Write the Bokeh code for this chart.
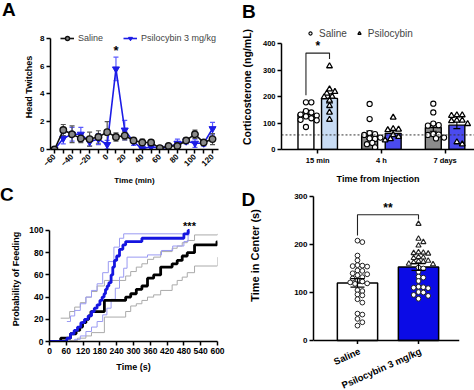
import math
from bokeh.plotting import figure
from bokeh.layouts import row, column
from bokeh.models import Legend, LegendItem, FixedTicker, Span, Div
from bokeh.core.properties import value
from bokeh.embed import file_html
from bokeh.resources import INLINE

FONT = "Liberation Sans"

# ---------------- Panel A : head twitches ----------------
a_time = [-60, -50, -40, -30, -20, -10, 0, 10, 20, 30, 40, 50, 60, 70, 80, 90, 100, 110, 120]
a_saline = [0.0, 1.4, 1.1, 0.8, 0.75, 0.9, 1.25, 0.9, 1.0, 0.65, 0.5, 0.5, 0.1, 0.25, 0.25, 0.65, 1.1, 0.5, 0.75]
a_saline_sem = [0.0, 0.4, 0.6, 0.3, 0.5, 0.45, 0.75, 0.3, 0.3, 0.2, 0.25, 0.12, 0.1, 0.1, 0.3, 0.2, 0.3, 0.2, 0.4]
a_psilo = [0.0, 0.8, 1.1, 1.1, 0.55, 0.75, 0.35, 5.8, 1.4, 0.55, 0.05, 0.2, 0.1, 0.15, 0.45, 0.6, 0.45, 0.45, 1.5]
a_psilo_sem = [0.0, 0.4, 0.5, 0.5, 0.3, 0.4, 0.3, 0.85, 0.7, 0.25, 0.05, 0.15, 0.1, 0.1, 0.3, 0.2, 0.3, 0.2, 0.45]
a_xticks = [-60, -40, -20, 0, 20, 40, 60, 80, 100, 120]
a_xminor = [-50, -30, -10, 10, 30, 50, 70, 90, 110]
a_yticks = [0, 2, 4, 6, 8]

# ---------------- Panel B : corticosterone ----------------
b_groups = ["15 min", "4 h", "7 days"]
b_saline_mean = [133, 55, 83]
b_saline_sem = [10, 15, 14]
b_psilo_mean = [193, 61, 92]
b_psilo_sem = [17, 10, 13]
b_saline_pts = [
    [178, 178, 145, 140, 132, 128, 125, 118, 112, 110, 85],
    [172, 115, 62, 58, 55, 45, 42, 40, 25, 20, 8],
    [173, 140, 98, 92, 90, 58, 56, 55, 45, 42],
]
b_psilo_pts = [
    [315, 228, 218, 212, 200, 198, 185, 165, 140, 113],
    [121, 78, 76, 74, 55, 48, 40, 35],
    [130, 128, 130, 110, 110, 108, 97, 28, 20],
]
b_baseline = 55
b_yticks = [0, 100, 200, 300, 400]

# ---------------- Panel C : probability of feeding ----------------
c_psi_t = [0, 62, 75, 88, 100, 112, 125, 138, 150, 160, 170, 180, 188, 195, 200, 206, 212, 220, 226, 232, 240, 250, 262, 272, 330, 480, 495, 500]
c_psi_p = [0, 3, 7, 10, 13, 17, 20, 23, 27, 30, 33, 37, 40, 43, 47, 50, 53, 60, 67, 73, 77, 83, 87, 90, 93, 97, 100, 100]
c_sal_t = [0, 40, 75, 95, 108, 118, 130, 140, 148, 196, 272, 290, 310, 330, 350, 372, 397, 438, 456, 474, 492, 518, 598, 600]
c_sal_p = [0, 3, 7, 10, 13, 17, 20, 23, 27, 37, 40, 43, 47, 50, 57, 60, 67, 70, 73, 77, 80, 87, 90, 90]
c_psi_hi_t = [62, 75, 90, 110, 130, 150, 170, 190, 210, 230, 250, 265, 490, 500]
c_psi_hi_p = [18, 23, 28, 34, 40, 46, 52, 62, 72, 85, 93, 97, 98, 100]
c_psi_lo_t = [70, 90, 110, 130, 150, 170, 190, 205, 220, 235, 250, 265, 277, 350, 400, 440, 480, 495, 500]
c_psi_lo_p = [0, 2, 5, 9, 13, 18, 24, 30, 38, 48, 58, 66, 76, 78, 82, 86, 90, 96, 96]
c_sal_hi_t = [40, 72, 90, 110, 130, 150, 170, 196, 272, 290, 310, 330, 350, 372, 397, 438, 456, 474, 492, 518, 600]
c_sal_hi_p = [21, 27, 31, 35, 40, 45, 50, 55, 59, 63, 67, 70, 74, 76, 81, 84, 86, 89, 91, 96, 97]
c_sal_lo_t = [40, 72, 100, 130, 150, 196, 272, 290, 310, 330, 350, 372, 397, 438, 456, 474, 492, 518, 600]
c_sal_lo_p = [0, 1, 3, 5, 8, 22, 27, 32, 34, 37, 40, 42, 46, 51, 55, 58, 62, 68, 76]
c_xticks = [0, 60, 120, 180, 240, 300, 360, 420, 480, 540, 600]
c_yticks = [0, 20, 40, 60, 80, 100]

# ---------------- Panel D : time in center ----------------
d_groups = ["Saline", "Psilocybin 3 mg/kg"]
d_mean = [120, 153]
d_sem = [9, 7]
d_saline_pts = [208, 205, 177, 167, 157, 156, 155, 154, 146, 145, 140, 138, 136, 132, 129, 126,
                123, 121, 119, 118, 105, 103, 96, 94, 86, 79, 56, 54, 45, 38, 31]
d_psilo_tri = [243, 212, 205, 198, 184, 183, 182, 181, 174, 173, 172, 166, 165, 164, 163, 160, 159]
d_psilo_circ = [152, 150, 143, 133, 131, 124, 112, 111, 110, 109, 101, 100, 95, 93, 87]
d_yticks = [0, 100, 200, 300]
d_ylabel = "Time in Center (s)"


def swarm(vals, ypx, xpx, d):
    """Beeswarm horizontal offsets (data units) so markers of diameter d px don't overlap."""
    order = sorted(range(len(vals)), key=lambda i: -vals[i])
    cands = [0.0]
    for k in range(1, 14):
        cands += [k * d * 0.55, -k * d * 0.55]
    placed, off = [], [0.0] * len(vals)
    for i in order:
        y = vals[i] * ypx
        for c in cands:
            if all((c - px) ** 2 + (y - py) ** 2 >= d * d * 0.9 for px, py in placed):
                break
        placed.append((c, y))
        off[i] = c / xpx
    return off


def make_fig(w, h, xr, yr, left, right, top, bottom, **kw):
    p = figure(width=w, height=h, x_range=xr, y_range=yr, title=None,
               min_border_left=left, min_border_right=right,
               min_border_top=top, min_border_bottom=bottom,
               output_backend="svg", toolbar_location=None, **kw)
    p.outline_line_color = None
    p.grid.visible = False
    return p


def style_axes(p, tick_px, title_px, lab_stand=2, title_stand=4):
    for ax in p.axis:
        ax.axis_line_color = "black"
        ax.axis_line_width = 1.5
        ax.major_tick_line_width = 1.5
        ax.major_tick_line_color = "black"
        ax.major_tick_out = 4
        ax.major_tick_in = 0
        ax.minor_tick_line_color = None
        ax.major_label_text_font = FONT
        ax.major_label_text_font_style = "bold"
        ax.major_label_text_font_size = tick_px
        ax.major_label_text_color = "black"
        ax.major_label_standoff = lab_stand
        ax.axis_label_text_font = FONT
        ax.axis_label_text_font_style = "bold"
        ax.axis_label_text_font_size = title_px
        ax.axis_label_text_color = "black"
        ax.axis_label_standoff = title_stand


def errbars(p, xs, means, sems, color, cap, lw=1.2):
    lo = [m - s for m, s in zip(means, sems)]
    hi = [m + s for m, s in zip(means, sems)]
    p.segment(x0=xs, y0=lo, x1=xs, y1=hi, line_color=color, line_width=lw)
    p.scatter(x=xs + xs, y=hi + lo, marker="dash", size=cap, line_color=color, line_width=lw)


def letters_div(w, h, items):
    spans = "".join(
        f'<span style="position:absolute;left:{x}px;top:{t}px;">{s}</span>' for s, x, t in items)
    html = (f'<div style="position:relative;width:{w}px;height:{h}px;font-family:\'{FONT}\';'
            f'font-weight:bold;font-size:19px;line-height:19px;color:black;">{spans}</div>')
    return Div(text=html, width=w, height=h, margin=(0, 0, 0, 0))


# ================= A =================  (figure spans page y 21..187)
pA = make_fig(237, 166, (-64.56, 126.8), (0, 9.0), 50, 19, 3, 37)
errbars(pA, a_time, a_psilo, a_psilo_sem, "#5a5aff", 5)
errbars(pA, a_time, a_saline, a_saline_sem, "#555555", 5)
psi_l = pA.line(a_time, a_psilo, line_color="#1c1ce6", line_width=1.6)
psi_m = pA.scatter(a_time, a_psilo, marker="inverted_triangle", size=7,
                   fill_color="#1c1ce6", line_color="#1c1ce6")
sal_l = pA.line(a_time, a_saline, line_color="#111111", line_width=1.6)
sal_m = pA.scatter(a_time, a_saline, marker="circle", size=6.5,
                   fill_color="#8a8a8a", line_color="#111111", line_width=1.4)
pA.text(x=[a_time[7]], y=[a_psilo[7] + a_psilo_sem[7] + 0.45], text=["*"],
        text_font=value(FONT), text_font_style="bold", text_font_size="13px",
        text_align="center", text_baseline="middle", text_color="black")
legA = Legend(items=[LegendItem(label="Saline", renderers=[sal_l, sal_m]),
                     LegendItem(label="Psilocybin 3 mg/kg", renderers=[psi_l, psi_m])],
              orientation="horizontal", location=(10, 106), margin=0, padding=0,
              spacing=20, glyph_width=14, glyph_height=10, label_height=10,
              label_standoff=4, label_text_font=FONT, label_text_font_size="9px",
              background_fill_alpha=0, border_line_color=None)
pA.add_layout(legA)
pA.xaxis.ticker = FixedTicker(ticks=a_xticks, minor_ticks=a_xminor)
pA.yaxis.ticker = FixedTicker(ticks=a_yticks)
pA.yaxis.bounds = (0, 8)
pA.xaxis.axis_label = "Time (min)"
pA.yaxis.axis_label = "Head Twitches"
style_axes(pA, "8px", "9px", 2, 3)
pA.xaxis.axis_label_text_font_size = "8px"
pA.xaxis.axis_label_standoff = 4
pA.xaxis.minor_tick_line_color = "black"
pA.xaxis.minor_tick_line_width = 1.5
pA.xaxis.minor_tick_out = 4
pA.xaxis.minor_tick_in = 0
pA.xaxis.major_label_orientation = math.pi / 4

# ================= B =================
pB = make_fig(237, 166, (-0.569, 2.462), (0, 472.1), 40, 0, 0, 35)
off = 0.185
bw = 0.25
gx = list(range(len(b_groups)))
sx = [g - off for g in gx]
px = [g + off for g in gx]
pB.vbar(x=sx, top=b_saline_mean, width=bw, fill_color=["white", "#8c8c8c", "#8c8c8c"],
        line_color="black", line_width=1.4)
pB.vbar(x=px, top=b_psilo_mean, width=bw, fill_color=["#c8dcf4", "#4b4bee", "#4b4bee"],
        line_color="black", line_width=1.4)
pB.add_layout(Span(location=b_baseline, dimension="width", line_dash="2 2",
                   line_color="#333333", line_width=1))
errbars(pB, sx, b_saline_mean, b_saline_sem, "black", 7, 1.1)
errbars(pB, px, b_psilo_mean, b_psilo_sem, "black", 7, 1.1)
circ_r, tri_r = [], []
for i in gx:
    o = swarm(b_saline_pts[i], 0.2775, 65.0, 5.0)
    circ_r.append(pB.scatter([sx[i] + v for v in o], b_saline_pts[i], marker="circle", size=5.2,
                             fill_color="white", line_color="black", line_width=1.1))
    o = swarm(b_psilo_pts[i], 0.2775, 65.0, 5.0)
    tri_r.append(pB.scatter([px[i] + v for v in o], b_psilo_pts[i], marker="triangle", size=5.8,
                            fill_color="white", line_color="black", line_width=1.3))
pB.line(x=[sx[0], sx[0], px[0], px[0]], y=[205, 364, 364, 342], line_color="#222222", line_width=1.1)
pB.text(x=[0], y=[392], text=["*"], text_font=value(FONT), text_font_style="bold",
        text_font_size="12px", text_align="center", text_baseline="middle", text_color="black")
legB = Legend(items=[LegendItem(label="Saline", renderers=[circ_r[0]]),
                     LegendItem(label="Psilocybin", renderers=[tri_r[0]])],
              orientation="horizontal", location=(25, 110), margin=0, padding=0,
              spacing=8, glyph_width=8, glyph_height=12, label_height=12,
              label_standoff=5, label_text_font=FONT, label_text_font_size="10px",
              background_fill_alpha=0, border_line_color=None)
pB.add_layout(legB)
pB.xaxis.ticker = FixedTicker(ticks=gx)
pB.xaxis.major_label_overrides = {i: b_groups[i] for i in gx}
pB.yaxis.ticker = FixedTicker(ticks=b_yticks)
pB.yaxis.bounds = (0, 400)
pB.xaxis.axis_label = "Time from Injection"
pB.yaxis.axis_label = "Corticosterone (ng/mL)"
style_axes(pB, "7.5px", "9px", 2, 6)
pB.yaxis.axis_label_text_font_size = "10.5px"
pB.yaxis.axis_label_standoff = 7

# ================= C =================  (figure spans page y 200..390)
pC = make_fig(237, 190, (0, 600), (0, 112.6), 49, 20, 16, 49)
for t, pr in [(c_sal_hi_t, c_sal_hi_p), (c_sal_lo_t, c_sal_lo_p)]:
    pC.step(t, pr, mode="after", line_color="#aaaaaa", line_width=1)
for t, pr in [(c_psi_hi_t, c_psi_hi_p), (c_psi_lo_t, c_psi_lo_p)]:
    pC.step(t, pr, mode="after", line_color="#9a9af2", line_width=1)
pC.step(c_sal_t, c_sal_p, mode="after", line_color="black", line_width=2.8)
pC.step(c_psi_t, c_psi_p, mode="after", line_color="#1515e0", line_width=2.8)
pC.text(x=[500], y=[104], text=["***"], text_font=value(FONT), text_font_style="bold",
        text_font_size="11px", text_align="center", text_baseline="middle", text_color="black")
pC.xaxis.ticker = FixedTicker(ticks=c_xticks)
pC.yaxis.ticker = FixedTicker(ticks=c_yticks)
pC.yaxis.bounds = (0, 100)
pC.xaxis.axis_label = "Time (s)"
pC.yaxis.axis_label = "Probability of Feeding"
style_axes(pC, "8.5px", "9px", 2, 5)

# ================= D =================  (page y 187..390, x 237..474)
D_PX = 0.48  # pixels per second on the y axis
pD = make_fig(207, 157, (-0.721, 1.672), (-4 / D_PX, 300 + 9 / D_PX), 46, 15, 0, 0,
              x_axis_location=None)
dx = [0, 1]
pD.vbar(x=dx, top=d_mean, width=0.66, fill_color=["white", "#0b0be6"],
        line_color="black", line_width=1.5)
o = swarm(d_saline_pts, D_PX, 61.0, 4.4)
pD.scatter([dx[0] + v for v in o], d_saline_pts, marker="circle", size=4.8,
           fill_color="white", line_color="#222222", line_width=1.0)
allp = d_psilo_tri + d_psilo_circ
o = swarm(allp, D_PX, 61.0, 4.4)
nt = len(d_psilo_tri)
pD.scatter([dx[1] + v for v in o[nt:]], d_psilo_circ, marker="circle", size=4.8,
           fill_color="white", line_color="#222222", line_width=1.0)
pD.scatter([dx[1] + v for v in o[:nt]], d_psilo_tri, marker="triangle", size=5.2,
           fill_color="white", line_color="#222222", line_width=1.1)
errbars(pD, dx, d_mean, d_sem, "black", 14, 1.2)
pD.line(x=[dx[0], dx[0], dx[1], dx[1]], y=[219, 262, 262, 252], line_color="#222222", line_width=1.1)
pD.text(x=[0.5], y=[276], text=["**"], text_font=value(FONT), text_font_style="bold",
        text_font_size="12px", text_align="center", text_baseline="middle", text_color="black")
pD.add_layout(Span(location=0, dimension="width", line_color="black", line_width=1.5))
pD.segment(x0=dx, y0=[0, 0], x1=dx, y1=[-4 / D_PX] * 2, line_color="black", line_width=1.5)
pD.yaxis.ticker = FixedTicker(ticks=d_yticks)
pD.yaxis.bounds = (0, 300)
style_axes(pD, "8px", "11px", 2, 6)

# strip under D for the slanted category labels
pDl = make_fig(207, 46, pD.x_range, (-46, 0), 46, 15, 0, 0,
               x_axis_location=None, y_axis_location=None)
pDl.text(x=dx, y=[-1, -1], text=d_groups, angle=0.42, text_align="right",
         text_baseline="top", text_font=value(FONT), text_font_style="bold",
         text_font_size="9.5px", text_color="black")

# strip left of D for the panel letter and the y-axis title
pDt = make_fig(30, 203, (0, 30), (0, 203), 0, 0, 0, 0,
               x_axis_location=None, y_axis_location=None)
pDt.text(x=[4], y=[202], text=["D"], text_font=value(FONT), text_font_style="bold",
         text_font_size="19px", text_align="left", text_baseline="top", text_color="black")
pDt.text(x=[17], y=[135], text=[d_ylabel], angle=math.pi / 2, text_font=value(FONT),
         text_font_style="bold", text_font_size="11px", text_align="center",
         text_baseline="middle", text_color="black")

top_letters = letters_div(474, 21, [("A", 2, 0), ("B", 242, 2)])
c_letter = letters_div(237, 13, [("C", 0, -2)])

layout = column(top_letters, row(pA, pB),
                row(column(c_letter, pC), row(pDt, column(pD, pDl))))
open("out.html", "w").write(file_html(layout, INLINE, title="Psilocybin figure"))
